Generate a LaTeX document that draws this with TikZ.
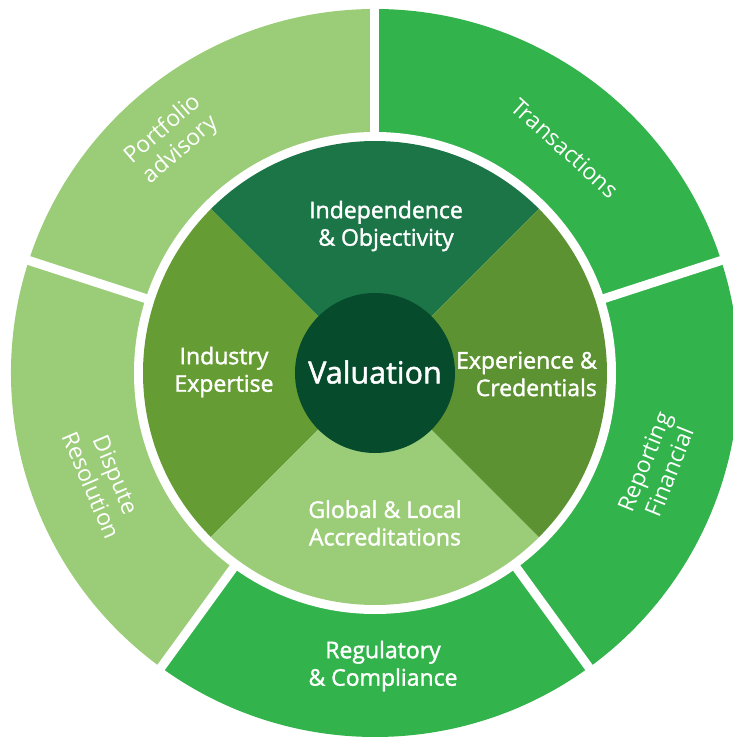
\documentclass[tikz,border=0pt]{standalone}
\usepackage{fontspec}
\setmainfont{Open Sans}
\newfontfamily\sbfont{Open Sans}[FakeBold=1.6]
\definecolor{lightg}{HTML}{9BCD78}
\definecolor{brightg}{HTML}{32B34B}
\definecolor{indepg}{HTML}{1B7547}
\definecolor{industg}{HTML}{669C34}
\definecolor{experg}{HTML}{5D9232}
\definecolor{centerg}{HTML}{074B2D}
\tikzset{
  inlabel/.style={text=white, align=center, inner sep=0pt, font=\sbfont\fontsize{23}{27.5}\selectfont},
  outlabel/.style={text=white, align=center, inner sep=0pt, font=\fontsize{23}{27}\selectfont},
  gapline/.style={white, line width=9pt},
}
\begin{document}
\begin{tikzpicture}[x=1pt,y=1pt]
\useasboundingbox (-375,-366) rectangle (358,373);
\clip (-375,-366) rectangle (358,373);
% outer ring sectors
\fill[brightg] (0,0) -- (18:364) arc[start angle=18, end angle=90, radius=364] -- cycle;
\fill[lightg] (0,0) -- (90:364) arc[start angle=90, end angle=162, radius=364] -- cycle;
\fill[lightg] (0,0) -- (162:364) arc[start angle=162, end angle=234, radius=364] -- cycle;
\fill[brightg] (0,0) -- (234:364) arc[start angle=234, end angle=306, radius=364] -- cycle;
\fill[brightg] (0,0) -- (306:364) arc[start angle=306, end angle=378, radius=364] -- cycle;
% white gap circle
\fill[white] (0,0) circle[radius=241];
% inner quadrants
\fill[indepg] (0,0) -- (45:232) arc[start angle=45, end angle=135, radius=232] -- cycle;
\fill[industg] (0,0) -- (135:232) arc[start angle=135, end angle=225, radius=232] -- cycle;
\fill[lightg] (0,0) -- (225:232) arc[start angle=225, end angle=315, radius=232] -- cycle;
\fill[experg] (0,0) -- (315:232) arc[start angle=315, end angle=405, radius=232] -- cycle;
% centre
\fill[centerg] (0,0) circle[radius=80];
% gaps in outer ring
\foreach \a in {18,90,162,234,306} \draw[gapline] (\a:236) -- (\a:380);
% labels
\node[text=white, inner sep=0pt, font=\sbfont\fontsize{30.5}{34}\selectfont] (val) at (0,1) {Valuation};
\node[inlabel] (indep) at (11,147) {Independence\\\& Objectivity};
\node[inlabel] (indus) at (-151,1) {Industry\\Expertise};
\node[inlabel, align=right, anchor=east] (exper) at (222,-1) {Experience \&\\Credentials};
\node[inlabel] (glob) at (10,-150) {Global \& Local\\Accreditations};
\node[inlabel] (regul) at (8,-293) {Regulatory\\\& Compliance};
\node[outlabel, rotate=41] (portf) at (-203,233) {Portfolio\\advisory};
\node[outlabel, rotate=-42] (trans) at (190,225) {Transactions};
\node[outlabel, rotate=68] (repor) at (282,-94) {Reporting\\Financial};
\node[outlabel, rotate=-67] (disp) at (-271,-107) {Dispute\\Resolution};
\end{tikzpicture}
\end{document}
